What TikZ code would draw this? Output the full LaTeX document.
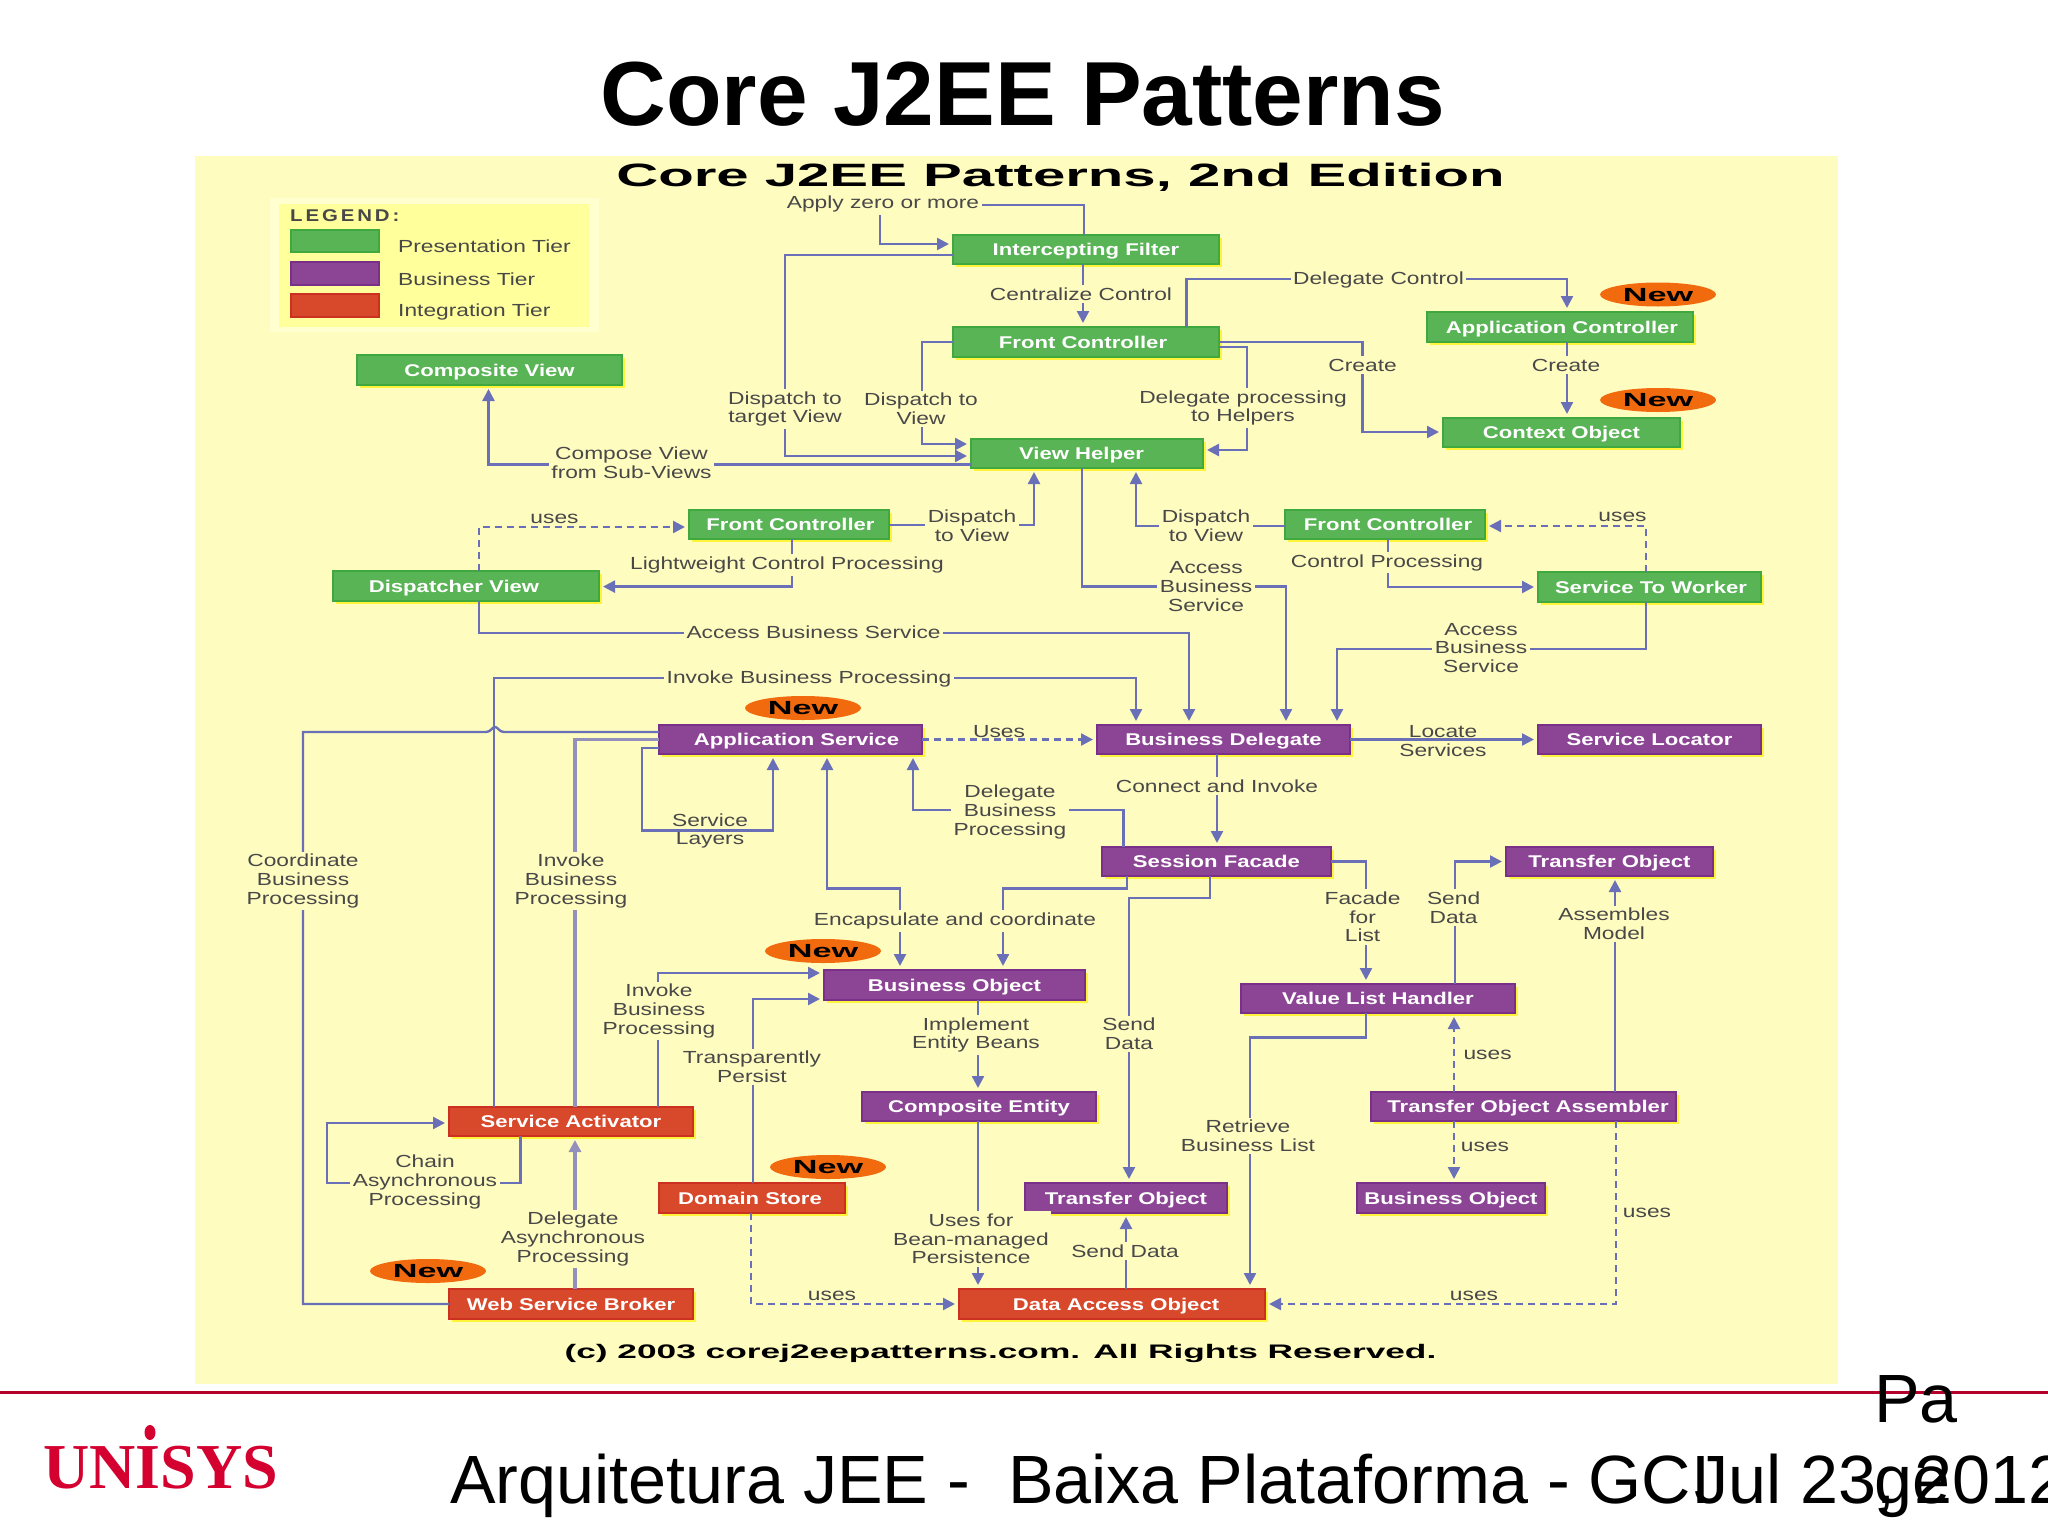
\documentclass[tikz,border=0pt]{standalone}
\usepackage{fontspec}
\setmainfont{Liberation Sans}
\newfontfamily\labf[FakeStretch=1.3]{Liberation Sans}
\newfontfamily\legf[FakeStretch=1.2,LetterSpace=17]{Liberation Sans}
\newfontfamily\widef[FakeStretch=1.8]{Liberation Sans}
\newfontfamily\logof{Liberation Serif}
\usetikzlibrary{arrows.meta,shapes.geometric,shadows}
\definecolor{bgy}{HTML}{FFFCC0}
\definecolor{legy}{HTML}{FFFF9C}
\definecolor{legw}{HTML}{FFFFD0}
\definecolor{gfill}{HTML}{59B455}
\definecolor{gline}{HTML}{3FA83F}
\definecolor{pfill}{HTML}{8C4595}
\definecolor{pline}{HTML}{7A3088}
\definecolor{rfill}{HTML}{D8482A}
\definecolor{rline}{HTML}{CC3020}
\definecolor{wire}{HTML}{6A70B8}
\definecolor{wire2}{HTML}{9390BC}
\definecolor{newc}{HTML}{F26A0E}
\definecolor{txt}{HTML}{484848}
\definecolor{uni}{HTML}{D4002F}
\tikzset{
  boxbase/.style={rectangle,inner sep=0pt,outer sep=0pt,line width=1.5pt,text=white,
    text height=12.2pt,text depth=0pt,
    font=\labf\bfseries\fontsize{17}{20}\selectfont,
    general shadow={shadow xshift=2.5pt,shadow yshift=-2.5pt,fill=yellow!70!bgy}},
  gbox/.style={boxbase,fill=gfill,draw=gline},
  pbox/.style={boxbase,fill=pfill,draw=pline},
  rbox/.style={boxbase,fill=rfill,draw=rline},
  conn/.style={draw=wire,line width=2.4pt,line join=miter},
  conn2/.style={conn,draw=wire2,line width=3.4pt},
  arr/.style={conn,-{Triangle[length=12pt,width=12pt]},shorten >=4pt},
  arrb/.style={conn,{Triangle[length=12pt,width=12pt]}-{Triangle[length=12pt,width=12pt]},shorten >=4pt,shorten <=4pt},
  dsh/.style={dash pattern=on 7pt off 5pt},
  lbl/.style={fill=bgy,inner sep=2.5pt,align=center,text=txt,yshift=-1pt,font=\labf\fontsize{17.5}{18.6}\selectfont},
  lbn/.style={lbl,fill=none},
  newo/.style={ellipse,fill=newc,minimum width=116pt,minimum height=24pt,inner sep=0pt,text=black,text height=13.7pt,text depth=0pt,font=\widef\bfseries\fontsize{19}{20}\selectfont},
  foot/.style={inner sep=0pt,anchor=base west,text=black,font=\fontsize{68.3}{80}\selectfont}
}
\newcommand{\bx}[7]{\node[#6,minimum width={(#4-#2)*1pt},minimum height={(#5-#3)*1pt}] (#1) at ({(#2+#4)/2},{(#3+#5)/2}) {#7};}
\begin{document}
\begin{tikzpicture}[x=1pt,y=-1pt]
\clip (0,0) rectangle (2048,1536);
\useasboundingbox (0,0) rectangle (2048,1536);
\fill[white] (0,0) rectangle (2048,1536);
\fill[bgy] (195,156) rectangle (1838,1384);
\fill[legw] (270,198) rectangle (599,332);
\fill[legy] (279,204) rectangle (589,327);
\node[inner sep=0pt,font=\bfseries\fontsize{91}{100}\selectfont] (title) at (1023,94) {Core J2EE Patterns};
\node[inner sep=0pt,font=\widef\bfseries\fontsize{32.3}{36}\selectfont] (subtitle) at (1060.5,177) {Core J2EE Patterns, 2nd Edition};
\node[inner sep=0pt,font=\widef\bfseries\fontsize{19.6}{24}\selectfont] (copy) at (1000.5,1353) {(c) 2003 corej2eepatterns.com. All Rights Reserved.};
% legend
\node[inner sep=0pt,anchor=west,text=txt,font=\legf\bfseries\fontsize{17}{20}\selectfont] (lg) at (290,216) {LEGEND:};
\fill[gfill,draw=gline,line width=1.5pt] (291,230) rectangle (379,252);
\fill[pfill,draw=pline,line width=1.5pt] (291,262) rectangle (379,285);
\fill[rfill,draw=rline,line width=1.5pt] (291,294) rectangle (379,317);
\node[lbn,anchor=west,inner sep=0pt] (lg1) at (398,245) {Presentation Tier};
\node[lbn,anchor=west,inner sep=0pt] (lg2) at (398,278.5) {Business Tier};
\node[lbn,anchor=west,inner sep=0pt] (lg3) at (398,311) {Integration Tier};
% boxes first (so anchors exist)
\bx{cv}{357}{355}{622}{385}{gbox}{Composite View}
\bx{ifil}{953}{235}{1219}{264}{gbox}{Intercepting Filter}
\bx{fc}{953}{327}{1219}{357}{gbox}{\hspace*{-6pt}Front Controller}
\bx{actrl}{1427}{312}{1693}{342}{gbox}{\hspace*{4pt}Application Controller}
\bx{ctx}{1443}{418}{1680}{447}{gbox}{Context Object}
\bx{vh}{971}{439}{1203}{468}{gbox}{\hspace*{-11pt}View Helper}
\bx{fcl}{689}{510}{889}{539}{gbox}{\hspace*{3pt}Front Controller}
\bx{dv}{333}{571}{599}{601}{gbox}{\hspace*{-24pt}Dispatcher View}
\bx{fcr}{1285}{510}{1485}{539}{gbox}{\hspace*{6pt}Front Controller}
\bx{stw}{1538}{572}{1761}{602}{gbox}{\hspace*{3pt}Service To Worker}
\bx{as}{659}{725}{922}{754}{pbox}{\hspace*{12pt}Application Service}
\bx{bd}{1097}{725}{1350}{754}{pbox}{Business Delegate}
\bx{sl}{1538}{725}{1761}{754}{pbox}{Service Locator}
\bx{sf}{1102}{847}{1331}{876}{pbox}{Session Facade}
\bx{to}{1506}{847}{1713}{876}{pbox}{Transfer Object}
\bx{bo}{824}{970}{1085}{1000}{pbox}{Business Object}
\bx{vlh}{1241}{984}{1515}{1013}{pbox}{Value List Handler}
\bx{ce}{862}{1092}{1096}{1121}{pbox}{Composite Entity}
\bx{toa}{1371}{1092}{1676}{1121}{pbox}{\hspace*{9pt}Transfer Object Assembler}
\bx{sa}{449}{1107}{693}{1136}{rbox}{Service Activator}
\bx{ds}{659}{1183}{845}{1213}{rbox}{\hspace*{-4pt}Domain Store}
\bx{tob}{1025}{1183}{1227}{1213}{pbox}{Transfer Object}
\bx{bot}{1357}{1183}{1545}{1213}{pbox}{Business Object}
\bx{wsb}{449}{1289}{693}{1319}{rbox}{Web Service Broker}
\bx{dao}{959}{1289}{1265}{1319}{rbox}{\hspace*{8pt}Data Access Object}
% connectors
\draw[arr] (ifil.north -| 1084,0) -- (1084,205) -- (880,205) -- (880,244) -- (ifil.west |- 0,244);
\draw[arr] (ifil.south -| 1083,0) -- (fc.north -| 1083,0);
\draw[arr] (ifil.west |- 0,255) -- (785,255) -- (785,456) -- (vh.west |- 0,456);
\draw[arr] (fc.west) -- (922,342) -- (922,444) -- (vh.west |- 0,444);
\draw[arr] (vh.west |- 0,464.5) -- (488.5,464.5) -- (cv.south -| 488.5,0);
\draw[arr] (fcl.east |- 0,525) -- (1034,525) -- (vh.south -| 1034,0);
\draw[arr,dsh] (dv.north -| 479,0) -- (479,527) -- (fcl.west |- 0,527);
\draw[arr] (fcl.south -| 792,0) -- (792,586.6) -- (dv.east |- 0,586.6);
\draw[arr] (dv.south -| 479,0) -- (479,633) -- (1189,633) -- (bd.north -| 1189,0);
\draw[arr] (sa.north -| 494,0) -- (494,678) -- (1136,678) -- (bd.north -| 1136,0);
\draw[arr] (vh.south -| 1082,0) -- (1082,586.6) -- (1286,586.6) -- (bd.north -| 1286,0);
\draw[arr] (fcr.west |- 0,526) -- (1136,526) -- (vh.south -| 1136,0);
\draw[arr,dsh] (stw.north -| 1646,0) -- (1646,526) -- (fcr.east |- 0,526);
\draw[arr] (fcr.south -| 1388,0) -- (1388,587) -- (stw.west |- 0,587);
\draw[arr] (stw.south -| 1646,0) -- (1646,649) -- (1337,649) -- (bd.north -| 1337,0);
\draw[arr] (fc.north -| 1186.5,0) -- (1186.5,279) -- (1567,279) -- (actrl.north -| 1567,0);
\draw[arr] (fc.east) -- (1362.6,342) -- (1362.6,432) -- (ctx.west |- 0,432);
\draw[arr] (fc.east |- 0,347) -- (1247,347) -- (1247,450) -- (vh.east |- 0,450);
\draw[arr] (actrl.south -| 1567,0) -- (ctx.north -| 1567,0);
\draw[arr,dsh] (as.east) -- (bd.west);
\draw[arr] (bd.east) -- (sl.west);
\draw[arr] (bd.south -| 1217,0) -- (sf.north -| 1217,0);
\draw[arr] (sf.north -| 1123.4,0) -- (1123.4,810) -- (913,810) -- (as.south -| 913,0);
\draw[arr] (sf.south -| 1127,0) -- (1127,888.5) -- (1003,888.5) -- (bo.north -| 1003,0);
\draw[arrb] (as.south -| 827,0) -- (827,888.5) -- (900,888.5) -- (bo.north -| 900,0);
\draw[arr] (sf.south -| 1210,0) -- (1210,898) -- (1129,898) -- (tob.north -| 1129,0);
\draw[arr] (sf.east) -- (1366,861.5) -- (vlh.north -| 1366,0);
\draw[arr] (vlh.north -| 1455,0) -- (1455,861.5) -- (to.west);
\draw[arr] (toa.north -| 1615,0) -- (to.south -| 1615,0);
\draw[arr] (vlh.south -| 1366,0) -- (1366,1037.6) -- (1250,1037.6) -- (dao.north -| 1250,0);
\draw[arr,dsh] (toa.north -| 1454,0) -- (vlh.south -| 1454,0);
\draw[arr,dsh] (toa.south -| 1454,0) -- (bot.north -| 1454,0);
\draw[arr,dsh] (toa.south -| 1616,0) -- (1616,1304) -- (dao.east);
\draw[arr] (dao.north -| 1126,0) -- (tob.south -| 1126,0);
\draw[conn] (as.west |- 0,732) -- (504,732) .. controls (499,732) and (498,727) .. (495,727) .. controls (492,727) and (491,732) .. (486,732) -- (303,732) -- (303,1304) -- (wsb.west);
\draw[conn2] (as.west) -- (575,739.5) -- (sa.north -| 575,0);
\draw[arr] (as.west |- 0,748) -- (642,748) -- (642,830.4) -- (773,830.4) -- (as.south -| 773,0);
\draw[arr] (sa.north -| 658,0) -- (658,973) -- (bo.west |- 0,973);
\draw[arr] (ds.north -| 753,0) -- (753,999) -- (bo.west |- 0,999);
\draw[arr] (bo.south -| 978,0) -- (ce.north -| 978,0);
\draw[arr] (ce.south -| 978,0) -- (dao.north -| 978,0);
\draw[arr] (sa.south -| 520.6,0) -- (520.6,1183) -- (327,1183) -- (327,1123) -- (sa.west |- 0,1123);
\draw[arr,draw=wire2,line width=3.4pt] (wsb.north -| 575,0) -- (sa.south -| 575,0);
\draw[arr,dsh] (ds.south -| 751,0) -- (751,1304) -- (dao.west);
% labels
\node[lbl] (t1) at (883,203) {Apply zero or more};
\node[lbl] (t2) at (1081,293) {Centralize Control};
\node[lbl] (t3) at (785,408) {Dispatch to\\target View};
\node[lbl] (t4) at (921,408) {Dispatch to\\View};
\node[lbl] (t5) at (631.5,462) {Compose View\\from Sub-Views};
\node[lbl] (t6) at (972,525) {Dispatch\\to View};
\node[lbn] (t7) at (554.5,518) {uses};
\node[lbl] (t8) at (787,564) {Lightweight Control Processing};
\node[lbl] (t9) at (813.6,631) {Access Business Service};
\node[lbl] (t10) at (809,678) {Invoke Business Processing};
\node[lbl] (t11) at (1206,585.5) {Access\\Business\\Service};
\node[lbl] (t12) at (1206,525) {Dispatch\\to View};
\node[lbn] (t13) at (1622.5,516) {uses};
\node[lbl] (t14) at (1387,561.6) {Control Processing};
\node[lbl] (t15) at (1481,647) {Access\\Business\\Service};
\node[lbl] (t16) at (1378.5,279) {Delegate Control};
\node[lbl] (t17) at (1362.6,364) {Create};
\node[lbl] (t18) at (1243,407) {Delegate processing\\to Helpers};
\node[lbl] (t19) at (1566,364) {Create};
\node[lbn] (t20) at (999,731) {Uses};
\node[lbn] (t21) at (1443,740) {Locate\\Services};
\node[lbl] (t22) at (1217,785) {Connect and Invoke};
\node[lbl] (t23) at (1010,811) {Delegate\\Business\\Processing};
\node[lbl] (t24) at (955,920) {Encapsulate and coordinate};
\node[lbl] (t25) at (1129,1033) {Send\\Data};
\node[lbl] (t26) at (1362.6,916) {Facade\\for\\List};
\node[lbl] (t27) at (1453.6,906.5) {Send\\Data};
\node[lbl] (t28) at (1614,923) {Assembles\\Model};
\node[lbl] (t29) at (1248,1135) {Retrieve\\Business List};
\node[lbn] (t30) at (1487.6,1054) {uses};
\node[lbn] (t31) at (1485,1145.6) {uses};
\node[lbn] (t32) at (1647,1212) {uses};
\node[lbn] (t33) at (1474,1295) {uses};
\node[lbl] (t34) at (1125,1250) {Send Data};
\node[lbl] (t35) at (303,880) {Coordinate\\Business\\Processing};
\node[lbl] (t36) at (571,880) {Invoke\\Business\\Processing};
\node[lbn] (t37) at (710,830) {Service\\Layers};
\node[lbl] (t38) at (659,1010) {Invoke\\Business\\Processing};
\node[lbl] (t39) at (752,1066) {Transparently\\Persist};
\node[lbl] (t40) at (976,1034) {Implement\\Entity Beans};
\node[lbl] (t41) at (971,1238) {Uses for\\Bean-managed\\Persistence};
\node[lbl] (t42) at (425,1181) {Chain\\Asynchronous\\Processing};
\node[lbl] (t43) at (573,1238) {Delegate\\Asynchronous\\Processing};
\node[lbn] (t44) at (832,1295) {uses};
% New markers
\node[newo] (n1) at (1658,294.5) {New};
\node[newo] (n2) at (1658,400) {New};
\node[newo] (n3) at (803,708) {New};
\node[newo] (n4) at (823,951) {New};
\node[newo] (n5) at (828,1167) {New};
\node[newo] (n6) at (428,1271) {New};
% footer
\draw[draw=uni!85!black,line width=3pt] (0,1392) -- (2048,1392);
\node[inner sep=0pt,anchor=base west,text=uni,font=\logof\bfseries\fontsize{64}{70}\selectfont] (logo) at (43,1488) {UNISYS};
\fill[uni] (150,1432.5) ellipse (5.5 and 7.5);
\node[foot] (f1) at (450,1503) {Arquitetura JEE -\ \ Baixa Plataforma - GCI};
\node[foot] (f2) at (1694,1503) {Jul 23, 2012};
\node[foot] (f3) at (1874,1422) {Pa};
\node[foot] (f4) at (1874,1503) {ge};
\end{tikzpicture}
\end{document}
